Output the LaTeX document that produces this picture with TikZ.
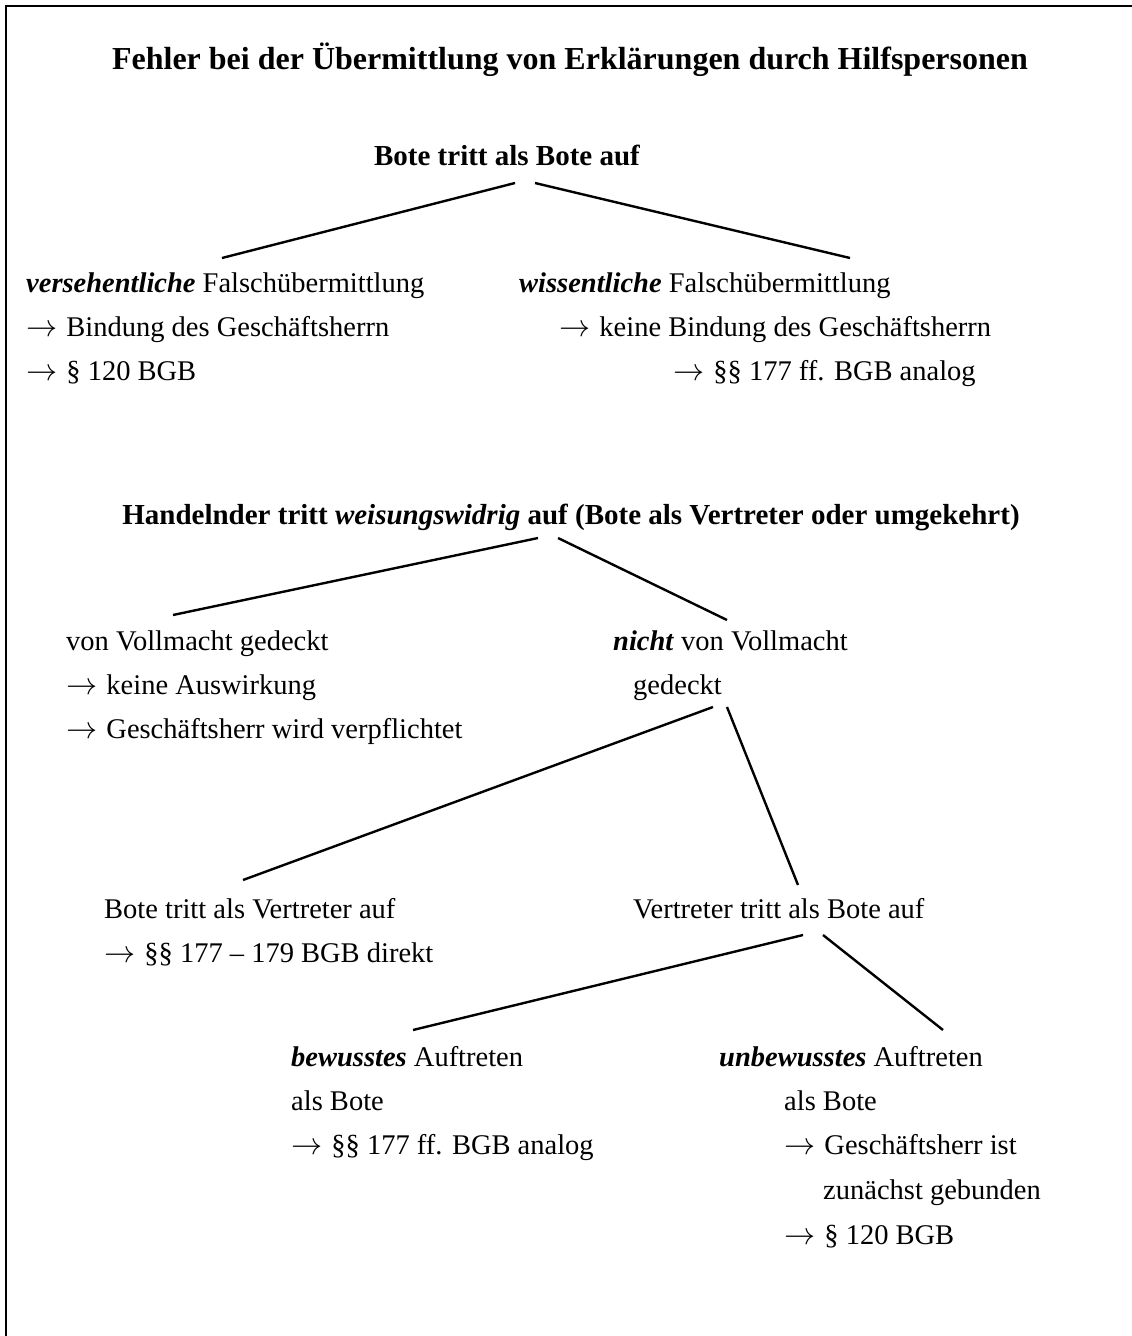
\documentclass[tikz,border=0pt]{standalone}
\usepackage{graphicx}
\usepackage{fontspec}
\setmainfont{Liberation Serif}
\newcommand{\pfeil}{\scalebox{1.25}{$\rightarrow$}\hspace{2pt}}

\begin{document}
\begin{tikzpicture}[x=1pt,y=-1pt,line width=2.4pt,
  txt/.style={anchor=base west,inner sep=0pt,font=\fontsize{28.5}{34}\selectfont},
  head/.style={anchor=base,inner sep=0pt,font=\fontsize{29}{34}\selectfont\bfseries}]
\useasboundingbox (0,0) rectangle (1132,1336);

% frame (only left and top edge are in the picture)
\draw[line width=2.5pt] (6,1336) -- (6,6) -- (1132,6);

\node[head,font=\fontsize{32}{38}\selectfont\bfseries] (title) at (570,69) {Fehler bei der Übermittlung von Erklärungen durch Hilfspersonen};

% first tree
\node[head] (bote) at (507,165) {Bote tritt als Bote auf};

\node[txt] (vers) at (25,292) {\textbf{\textit{versehentliche}} Falschübermittlung};
\node[txt] (versb) at (25,336) {\pfeil{} Bindung des Geschäftsherrn};
\node[txt] (versc) at (25,380) {\pfeil{} § 120 BGB};

\node[txt] (wiss) at (518,292) {\textbf{\textit{wissentliche}} Falschübermittlung};
\node[txt] (wissb) at (558,336) {\pfeil{} keine Bindung des Geschäftsherrn};
\node[txt] (wissc) at (672,380) {\pfeil{} §§ 177 ff. BGB analog};

\coordinate (bote-l) at (515,183);
\coordinate (bote-r) at (535,183);
\coordinate (vers-t) at (222,258);
\coordinate (wiss-t) at (850,258);
\draw (bote-l) -- (vers-t);
\draw (bote-r) -- (wiss-t);

% second tree
\node[head] (hand) at (571,524) {Handelnder tritt \textit{weisungswidrig} auf (Bote als Vertreter oder umgekehrt)};

\node[txt] (ged) at (65,650) {von Vollmacht gedeckt};
\node[txt] (gedb) at (65,694) {\pfeil{} keine Auswirkung};
\node[txt] (gedc) at (65,738) {\pfeil{} Geschäftsherr wird verpflichtet};

\node[txt] (nicht) at (612,650) {\textbf{\textit{nicht}} von Vollmacht};
\node[txt] (nichtb) at (632,694) {gedeckt};

\coordinate (hand-l) at (538,538);
\coordinate (hand-r) at (558,538);
\coordinate (ged-t) at (173,615);
\coordinate (nicht-t) at (727,620);
\draw (hand-l) -- (ged-t);
\draw (hand-r) -- (nicht-t);

\node[txt] (bav) at (103,918) {Bote tritt als Vertreter auf};
\node[txt] (bavb) at (103,962) {\pfeil{} §§ 177 – 179 BGB direkt};

\node[txt] (vab) at (632,918) {Vertreter tritt als Bote auf};

\coordinate (nicht-l) at (713,707);
\coordinate (nicht-r) at (727,707);
\coordinate (bav-t) at (243,880);
\coordinate (vab-t) at (798,885);
\draw (nicht-l) -- (bav-t);
\draw (nicht-r) -- (vab-t);

\node[txt] (bew) at (290,1066) {\textbf{\textit{bewusstes}} Auftreten};
\node[txt] (bewb) at (290,1110) {als Bote};
\node[txt] (bewc) at (290,1154) {\pfeil{} §§ 177 ff. BGB analog};

\node[txt] (unb) at (718,1066) {\textbf{\textit{unbewusstes}} Auftreten};
\node[txt] (unbb) at (783,1110) {als Bote};
\node[txt] (unbc) at (783,1154) {\pfeil{} Geschäftsherr ist};
\node[txt] (unbd) at (822,1199) {zunächst gebunden};
\node[txt] (unbe) at (783,1244) {\pfeil{} § 120 BGB};

\coordinate (vab-l) at (803,935);
\coordinate (vab-r) at (823,935);
\coordinate (bew-t) at (413,1030);
\coordinate (unb-t) at (943,1030);
\draw (vab-l) -- (bew-t);
\draw (vab-r) -- (unb-t);

\end{tikzpicture}
\end{document}
